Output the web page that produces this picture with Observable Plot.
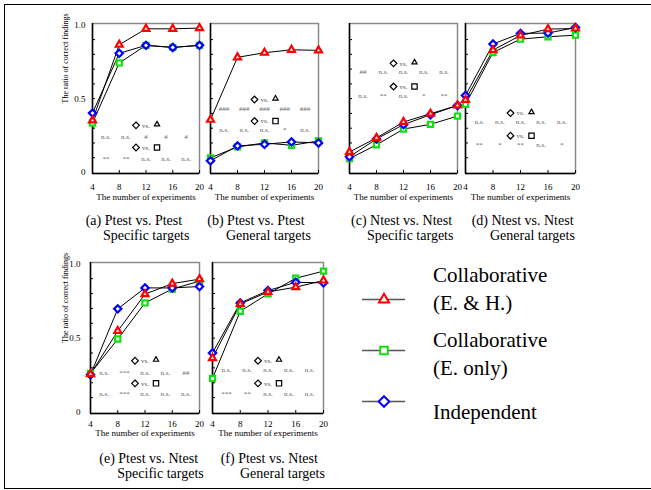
<!DOCTYPE html>
<html><head><meta charset="utf-8">
<script src="https://cdn.jsdelivr.net/npm/d3@7"></script>
<script src="https://cdn.jsdelivr.net/npm/@observablehq/plot@0.6"></script>
<style>
html,body{margin:0;padding:0;background:#fff;}
#root{position:relative;width:651px;height:490px;overflow:hidden;font-family:"Liberation Serif","DejaVu Serif","Times New Roman",Times,serif;background:#fff;}
#border{position:absolute;left:4.25px;top:3.75px;width:700px;height:485.5px;border:1.5px solid #000;box-sizing:border-box;}
.cap{position:absolute;font-size:14px;line-height:15px;white-space:nowrap;color:#000;font-family:"Liberation Serif","DejaVu Serif",serif;}
.leg{position:absolute;font-size:21px;line-height:28px;white-space:nowrap;color:#000;font-family:"Liberation Serif","DejaVu Serif",serif;}
.pl{position:absolute;}
.pl text{font-family:"Liberation Serif","DejaVu Serif",serif;}
</style></head><body><div id="root"><div id="border"></div></div>
<script>
// ---------- data ----------
const experiments = [4, 8, 12, 16, 20];
const series = ["Collaborative (E. & H.)", "Collaborative (E. only)", "Independent"];
const seriesSymbols = ["triangle2", "square2", "diamond2"];
const seriesColors = ["#ff0000", "#10e010", "#0000ff"];

// (a) Ptest vs. Ptest, Specific targets
const aEH   = [0.353, 0.865, 0.973, 0.973, 0.978];
const aE    = [0.335, 0.742, 0.861, 0.847, 0.861];
const aInd  = [0.402, 0.807, 0.861, 0.847, 0.861];
const aSigTri = ["n.s.", "n.s.", "#", "#", "#"];
const aSigSq  = ["**", "**", "n.s.", "n.s.", "n.s."];
// (b) Ptest vs. Ptest, General targets
const bEH   = [0.357, 0.780, 0.811, 0.831, 0.827];
const bE    = [0.099, 0.173, 0.200, 0.184, 0.213];
const bInd  = [0.079, 0.180, 0.191, 0.207, 0.200];
const bSigTri = ["###", "###", "###", "###", "###"];
const bSigSq  = ["n.s.", "n.s.", "n.s.", "*", "n.s."];
// (c) Ntest vs. Ntest, Specific targets
const cEH   = [0.139, 0.234, 0.342, 0.398, 0.454];
const cE    = [0.094, 0.187, 0.294, 0.326, 0.382];
const cInd  = [0.106, 0.227, 0.324, 0.391, 0.454];
const cSigTri = ["##", "n.s.", "n.s.", "n.s.", "n.s."];
const cSigSq  = ["n.s.", "**", "n.s.", "*", "**"];
// (d) Ntest vs. Ntest, General targets
const dEH   = [0.492, 0.829, 0.928, 0.971, 0.975];
const dE    = [0.461, 0.813, 0.903, 0.919, 0.930];
const dInd  = [0.521, 0.870, 0.942, 0.944, 0.982];
const dSigTri = ["n.s.", "n.s.", "n.s.", "n.s.", "n.s."];
const dSigSq  = ["**", "*", "**", "n.s.", "*"];
// (e) Ptest vs. Ntest, Specific targets
const eEH   = [0.258, 0.548, 0.796, 0.867, 0.897];
const eE    = [0.263, 0.494, 0.737, 0.831, 0.883];
const eInd  = [0.254, 0.697, 0.838, 0.838, 0.847];
const eSigTri = ["n.s.", "***", "n.s.", "n.s.", "##"];
const eSigSq  = ["n.s.", "***", "n.s.", "n.s.", "n.s."];
// (f) Ptest vs. Ntest, General targets
const fEH   = [0.366, 0.730, 0.811, 0.843, 0.888];
const fE    = [0.229, 0.681, 0.798, 0.903, 0.951];
const fInd  = [0.400, 0.737, 0.820, 0.876, 0.872];
const fSigTri = ["n.s.", "n.s.", "n.s.", "n.s.", "n.s."];
const fSigSq  = ["***", "**", "n.s.", "n.s.", "n.s."];

const xTicks = [4, 8, 12, 16, 20];
const yLabelTicks = [0, 0.5, 1.0];
const yMinorTicks = [0.1, 0.2, 0.3, 0.4, 0.5, 0.6, 0.7, 0.8, 0.9];
const sigColumns = [6, 9, 12, 15, 18];
const xTitle = "The number of experiments";
const yTitle = "The ratio of correct findings";

// ---------- layout ----------
const root = document.getElementById("root");
const xDomain = [4, 20];
const yDomain = [-0.007, 1.009];
const FONT = "'Liberation Serif','DejaVu Serif',serif";

function panel(p) {
  const mL = 40, mR = 14, mT = 8, mB = 40;
  const rows = [];
  [[p.eonly, 1], [p.ind, 2], [p.eh, 0]].forEach(([vals, si]) => {
    vals.forEach((v, i) => rows.push({x: experiments[i], y: v, s: series[si]}));
  });
  const sigRows = [];
  p.sigTri.forEach((t, i) => sigRows.push({x: sigColumns[i], y: p.lev[1], t}));
  p.sigSq.forEach((t, i) => sigRows.push({x: sigColumns[i], y: p.lev[3], t}));
  const headTri = [{x: 12, y: p.lev[0]}];
  const headSq = [{x: 12, y: p.lev[2]}];
  const chart = Plot.plot({
    width: p.w + mL + mR, height: p.h + mT + mB,
    marginLeft: mL, marginRight: mR, marginTop: mT, marginBottom: mB,
    x: {domain: xDomain},
    y: {domain: yDomain},
    symbol: {domain: series, range: seriesSymbols},
    color: {domain: series, range: seriesColors},
    style: {background: "transparent", overflow: "visible", fontFamily: FONT, fontSize: "9px", color: "#000"},
    marks: [
      Plot.frame({stroke: "#8a8a8a", strokeWidth: 1.5}),
      Plot.ruleX(xDomain.slice(0, 1), {stroke: "#000", strokeWidth: 1.5}),
      Plot.ruleY(yDomain.slice(0, 1), {stroke: "#000", strokeWidth: 1.5}),
      Plot.axisY(yMinorTicks, {tickSize: -3, tickFormat: () => "", label: null, stroke: "#000"}),
      Plot.axisX(xTicks, {tickSize: -3, tickFormat: () => "", label: null, stroke: "#000"}),
      Plot.axisX(xTicks, {tickSize: 0, tickPadding: p.xPad, label: null, fontSize: 9}),
      p.showY ? Plot.axisY(yLabelTicks, {tickSize: 0, tickPadding: p.yPad, label: null, fontSize: 9,
        tickFormat: d => d === 0 ? "0" : d3.format(".1f")(d)}) : null,
      p.showY ? Plot.text([yTitle], {text: d => d, frameAnchor: "left", rotate: -90, dx: p.yTitleDx, dy: 5, fontSize: 8}) : null,
      Plot.text([xTitle], {text: d => d, frameAnchor: "bottom", dy: p.xTitleDy, fontSize: 9}),
      // significance annotations
      Plot.dot(headTri.concat(headSq), {x: "x", y: "y", symbol: "diamond2", r: 3, dx: -10, stroke: "#000", strokeWidth: 1.2, fill: "white"}),
      Plot.text(headTri.concat(headSq), {x: "x", y: "y", text: () => "vs.", fontSize: 7, fill: "#555555", dx: 0}),
      Plot.dot(headTri, {x: "x", y: "y", symbol: "triangle2", r: 2.5, dx: 11, dy: -1, stroke: "#000", strokeWidth: 1.2, fill: "white"}),
      Plot.dot(headSq, {x: "x", y: "y", symbol: "square2", r: 3.4, dx: 11, stroke: "#000", strokeWidth: 1.2, fill: "white"}),
      Plot.text(sigRows, {x: "x", y: "y", text: "t", fontSize: 7, fill: "#666666"}),
      // data
      Plot.line(rows, {x: "x", y: "y", z: "s", stroke: "#000", strokeWidth: 1}),
      Plot.dot(rows, {x: "x", y: "y", symbol: "s", stroke: "s", fill: "white", r: 3.3, strokeWidth: 2.2})
    ]
  });
  chart.classList.add("pl");
  chart.style.left = (p.left - mL) + "px";
  chart.style.top = (p.top - mT) + "px";
  root.appendChild(chart);
  // caption
  const c1 = document.createElement("div");
  c1.className = "cap"; c1.textContent = p.cap1;
  c1.style.left = p.c1x + "px"; c1.style.top = (p.capY - 7.5) + "px";
  const c2 = document.createElement("div");
  c2.className = "cap"; c2.textContent = p.cap2;
  c2.style.left = p.c2x + "px"; c2.style.top = (p.capY + 7.5) + "px";
  root.appendChild(c1); root.appendChild(c2);
}

const top1 = 22.7, top2 = 262;
panel({left: 92, top: top1, w: 107, h: 150, eh: aEH, eonly: aE, ind: aInd, sigTri: aSigTri, sigSq: aSigSq,
  lev: [0.319, 0.245, 0.169, 0.094], showY: true, yPad: 7, yTitleDx: -27, xPad: 10.6, xTitleDy: 26,
  cap1: "(a) Ptest vs. Ptest", cap2: "Specific targets", c1x: 85.7, c2x: 103, capY: 220});
panel({left: 210, top: top1, w: 108, h: 150, eh: bEH, eonly: bE, ind: bInd, sigTri: bSigTri, sigSq: bSigSq,
  lev: [0.494, 0.431, 0.348, 0.290], showY: false, xPad: 10.6, xTitleDy: 26,
  cap1: "(b) Ptest vs. Ptest", cap2: "General targets", c1x: 207.3, c2x: 226, capY: 220});
panel({left: 349, top: top1, w: 108, h: 150, eh: cEH, eonly: cE, ind: cInd, sigTri: cSigTri, sigSq: cSigSq,
  lev: [0.739, 0.679, 0.582, 0.521], showY: false, xPad: 10.6, xTitleDy: 26,
  cap1: "(c) Ntest vs. Ntest", cap2: "Specific targets", c1x: 351, c2x: 367, capY: 220});
panel({left: 465, top: top1, w: 110, h: 150, eh: dEH, eonly: dE, ind: dInd, sigTri: dSigTri, sigSq: dSigSq,
  lev: [0.402, 0.346, 0.249, 0.189], showY: false, xPad: 10.6, xTitleDy: 26,
  cap1: "(d) Ntest vs. Ntest", cap2: "General targets", c1x: 471.7, c2x: 490, capY: 220});
panel({left: 90, top: top2, w: 109, h: 151, eh: eEH, eonly: eE, ind: eInd, sigTri: eSigTri, sigSq: eSigSq,
  lev: [0.348, 0.265, 0.196, 0.124], showY: true, yPad: 10, yTitleDx: -25, xPad: 7.6, xTitleDy: 22.7,
  cap1: "(e) Ptest vs. Ntest", cap2: "Specific targets", c1x: 99.3, c2x: 117.3, capY: 458});
panel({left: 212, top: top2, w: 111, h: 151, eh: fEH, eonly: fE, ind: fInd, sigTri: fSigTri, sigSq: fSigSq,
  lev: [0.348, 0.290, 0.196, 0.128], showY: false, xPad: 7.6, xTitleDy: 22.7,
  cap1: "(f) Ptest vs. Ntest", cap2: "General targets", c1x: 220.7, c2x: 240, capY: 458});

// ---------- legend ----------
const legend = Plot.plot({
  width: 63, height: 123,
  marginLeft: 10, marginRight: 10, marginTop: 10, marginBottom: 10,
  y: {type: "point", domain: series, padding: 0, axis: null},
  symbol: {domain: series, range: seriesSymbols},
  color: {domain: series, range: seriesColors},
  style: {background: "transparent", overflow: "visible"},
  marks: [
    Plot.ruleY(series, {y: d => d, stroke: "#555", strokeWidth: 1.5}),
    Plot.dot(series, {y: d => d, symbol: d => d, stroke: d => d, fill: "white", r: 4.8, strokeWidth: 2})
  ]
});
legend.classList.add("pl");
legend.style.left = "352px"; legend.style.top = "287.7px";
root.appendChild(legend);
const legendLabels = [["Collaborative", "(E. & H.)"], ["Collaborative", "(E. only)"], ["Independent"]];
const legendTops = [261, 326, 397.7];
legendLabels.forEach((lines, i) => {
  const d = document.createElement("div");
  d.className = "leg";
  d.innerHTML = lines.join("<br>");
  d.style.left = "433px"; d.style.top = legendTops[i] + "px";
  root.appendChild(d);
});
</script>
</body></html>
